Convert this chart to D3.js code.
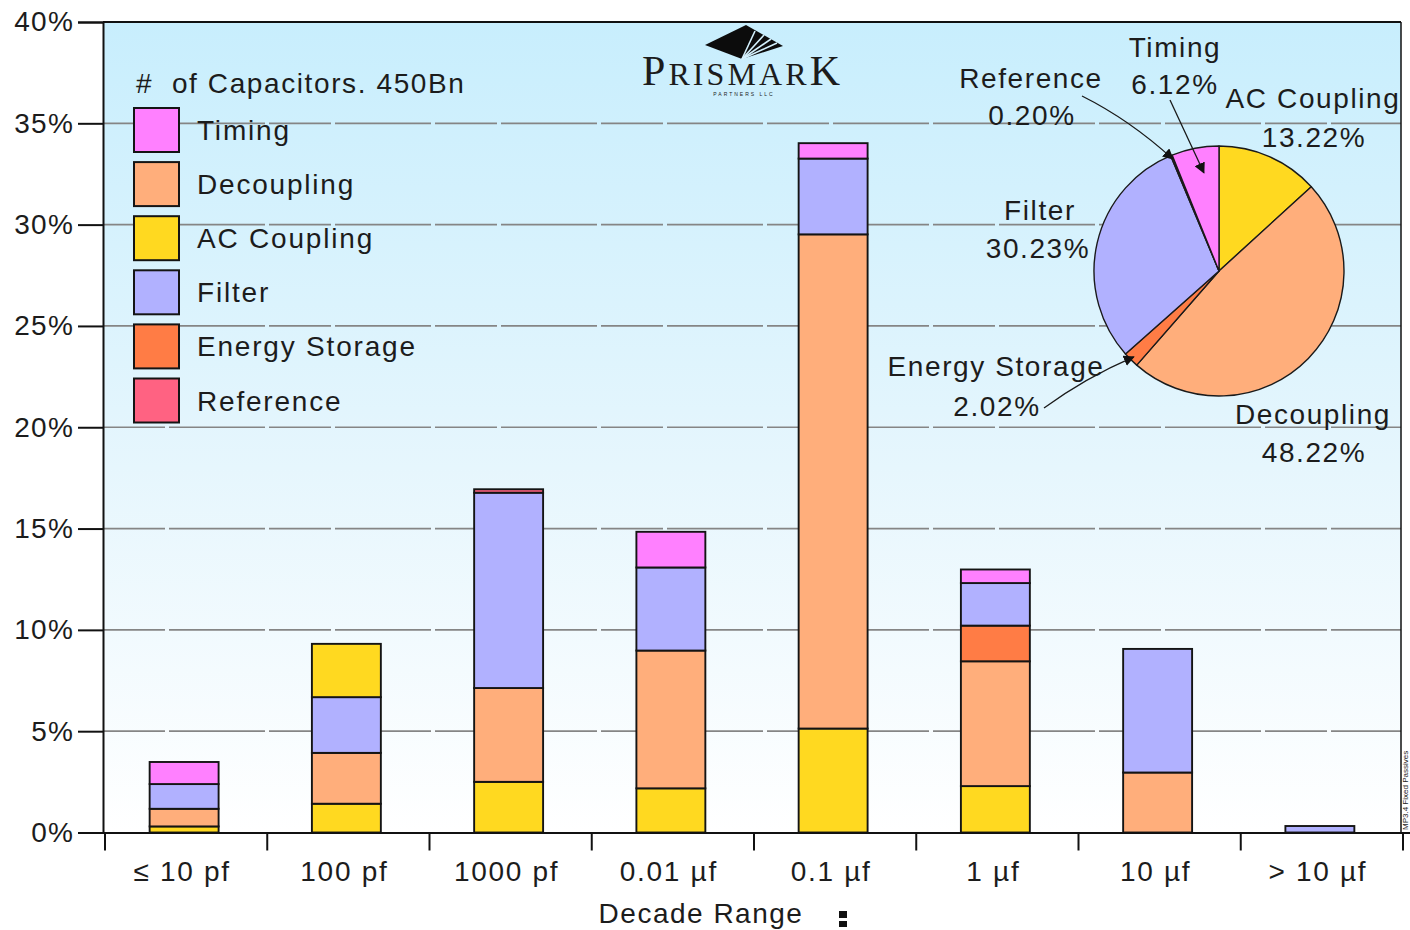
<!DOCTYPE html>
<html>
<head>
<meta charset="utf-8">
<script src="https://cdn.jsdelivr.net/npm/d3@7"></script>
<style>
  html, body { margin: 0; padding: 0; background: #ffffff; }
  svg { display: block; }
  text { font-family: "Liberation Sans", Arial, sans-serif; fill: #1c1c1c; }
</style>
</head>
<body>
<svg id="chart" width="1410" height="930"></svg>
<script>
// Capacitor usage share by decade range (percent of all units)
const categories = ["≤ 10 pf", "100 pf", "1000 pf", "0.01 µf", "0.1 µf", "1 µf", "10 µf", "> 10 µf"];
const acCoupling      = [0.30, 1.42, 2.50, 2.18, 5.13, 2.29, 0.00, 0.00];
const decoupling      = [0.87, 2.51, 4.63, 6.80, 24.39, 6.16, 2.96, 0.00];
const energyStorage   = [0.00, 0.00, 0.00, 0.00, 0.00, 1.76, 0.00, 0.00];
const filter          = [1.22, 2.75, 9.64, 4.10, 3.74, 2.10, 6.10, 0.32];
const acCouplingUpper = [0.00, 2.63, 0.00, 0.00, 0.00, 0.00, 0.00, 0.00];
const timing          = [1.09, 0.00, 0.00, 1.76, 0.76, 0.67, 0.00, 0.00];
const reference       = [0.00, 0.00, 0.17, 0.00, 0.00, 0.00, 0.00, 0.00];

const yTicks = [0, 5, 10, 15, 20, 25, 30, 35, 40];

// Overall application mix (pie), listed clockwise from 12 o'clock
const pieLabels = ["AC Coupling", "Decoupling", "Energy Storage", "Filter", "Reference", "Timing"];
const pieShares = [13.22, 48.22, 2.02, 30.23, 0.20, 6.12];

const legendLabels = ["Timing", "Decoupling", "AC Coupling", "Filter", "Energy Storage", "Reference"];
const legendTitle = "#  of Capacitors. 450Bn";

const colors = {
  "Timing": "#ff80ff",
  "Decoupling": "#ffae7b",
  "AC Coupling": "#ffd920",
  "AC Coupling (upper)": "#ffd920",
  "Filter": "#b1b1ff",
  "Energy Storage": "#ff7c45",
  "Reference": "#ff6282"
};

// ---- layout ----
const svg = d3.select("#chart");
const plot = { left: 103, right: 1401, top: 22, bottom: 832.5 };

const x = d3.scaleBand()
  .domain(categories)
  .range([plot.left, plot.right])
  .paddingInner(0.575)
  .paddingOuter(0.2875);

const y = d3.scaleLinear().domain([0, 40]).range([plot.bottom, plot.top]);

// background gradient
const defs = svg.append("defs");
const grad = defs.append("linearGradient").attr("id", "bg").attr("x1", 0).attr("y1", 0).attr("x2", 0).attr("y2", 1);
grad.append("stop").attr("offset", "0%").attr("stop-color", "#c8eefd");
grad.append("stop").attr("offset", "55%").attr("stop-color", "#e6f6fd");
grad.append("stop").attr("offset", "100%").attr("stop-color", "#ffffff");

defs.append("marker")
  .attr("id", "arrow")
  .attr("viewBox", "0 0 10 10")
  .attr("refX", 9).attr("refY", 5)
  .attr("markerWidth", 11).attr("markerHeight", 11)
  .attr("markerUnits", "userSpaceOnUse")
  .attr("orient", "auto")
  .append("path").attr("d", "M0,0 L10,5 L0,10 Z").attr("fill", "#111");

svg.append("rect")
  .attr("x", plot.left).attr("y", plot.top)
  .attr("width", plot.right - plot.left).attr("height", plot.bottom - plot.top)
  .attr("fill", "url(#bg)");

// dashed gridlines
svg.append("g").selectAll("line")
  .data(yTicks.filter(d => d > 0 && d < 40))
  .join("line")
  .attr("x1", plot.left).attr("x2", plot.right)
  .attr("y1", d => y(d)).attr("y2", d => y(d))
  .attr("stroke", "#858585").attr("stroke-width", 1.7)
  .attr("stroke-dasharray", "62,4,96,4");

// frame: top and right border
svg.append("line").attr("x1", plot.left).attr("x2", plot.right)
  .attr("y1", plot.top).attr("y2", plot.top).attr("stroke", "#111").attr("stroke-width", 2);
svg.append("line").attr("x1", plot.right).attr("x2", plot.right)
  .attr("y1", plot.top).attr("y2", plot.bottom).attr("stroke", "#111").attr("stroke-width", 1.5);

// ---- stacked bars ----
const stackKeys = ["AC Coupling", "Decoupling", "Energy Storage", "Filter", "AC Coupling (upper)", "Timing", "Reference"];
const seriesByKey = {
  "AC Coupling": acCoupling,
  "Decoupling": decoupling,
  "Energy Storage": energyStorage,
  "Filter": filter,
  "AC Coupling (upper)": acCouplingUpper,
  "Timing": timing,
  "Reference": reference
};
const rows = categories.map((c, i) => {
  const r = { category: c };
  stackKeys.forEach(k => { r[k] = seriesByKey[k][i]; });
  return r;
});
const stacked = d3.stack().keys(stackKeys)(rows);

const barG = svg.append("g");
stacked.forEach(layer => {
  barG.append("g")
    .attr("fill", colors[layer.key])
    .selectAll("rect")
    .data(layer.filter(d => d[1] - d[0] > 0))
    .join("rect")
    .attr("x", d => x(d.data.category))
    .attr("width", x.bandwidth())
    .attr("y", d => y(d[1]))
    .attr("height", d => y(d[0]) - y(d[1]))
    .attr("stroke", "#141414")
    .attr("stroke-width", 1.9);
});

// ---- y axis ----
const yAxis = d3.axisLeft(y).tickValues(yTicks).tickFormat(d => d + "%").tickSize(25).tickPadding(4);
const yG = svg.append("g").attr("transform", `translate(${plot.left},0)`).call(yAxis);
yG.select(".domain").attr("stroke", "#111").attr("stroke-width", 2);
yG.selectAll(".tick line").attr("stroke", "#111").attr("stroke-width", 2);
yG.selectAll(".tick text")
  .attr("font-size", 28).attr("letter-spacing", 1.2)
  .style("font-family", "'Liberation Sans', Arial, sans-serif").attr("fill", "#1c1c1c");

// ---- x axis ----
const boundaries = categories.map(c => x(c) - x.step() * x.paddingInner() / 2)
  .concat([plot.right]);
svg.append("line").attr("x1", plot.left).attr("x2", 1410)
  .attr("y1", plot.bottom + 0.5).attr("y2", plot.bottom + 0.5)
  .attr("stroke", "#111").attr("stroke-width", 2.2);
svg.append("g").selectAll("line")
  .data(boundaries)
  .join("line")
  .attr("x1", d => d + 2).attr("x2", d => d + 2)
  .attr("y1", plot.bottom).attr("y2", plot.bottom + 18)
  .attr("stroke", "#111").attr("stroke-width", 2);

const xAxis = d3.axisBottom(x).tickSize(0).tickPadding(0);
const xG = svg.append("g").attr("transform", `translate(-2,${plot.bottom})`).call(xAxis);
xG.select(".domain").remove();
xG.selectAll(".tick text")
  .attr("y", 48).attr("dy", 0)
  .attr("font-size", 28).attr("letter-spacing", 1.7)
  .style("font-family", "'Liberation Sans', Arial, sans-serif").attr("fill", "#1c1c1c");

svg.append("text")
  .attr("x", 701).attr("y", 923)
  .attr("text-anchor", "middle")
  .attr("font-size", 28).attr("letter-spacing", 1.5)
  .text("Decade Range");

// small stray mark beside the axis title
svg.append("rect").attr("x", 839).attr("y", 911).attr("width", 8).attr("height", 7).attr("fill", "#111");
svg.append("rect").attr("x", 839).attr("y", 921).attr("width", 8).attr("height", 6).attr("fill", "#111");

// ---- legend ----
svg.append("text")
  .attr("x", 136).attr("y", 93)
  .attr("font-size", 28).attr("letter-spacing", 1.6)
  .attr("xml:space", "preserve")
  .style("white-space", "pre")
  .text(legendTitle);

const legendRowY = d3.scalePoint().domain(legendLabels).range([130, 400.5]);
const leg = svg.append("g").selectAll("g")
  .data(legendLabels)
  .join("g")
  .attr("transform", d => `translate(134,${legendRowY(d)})`);
leg.append("rect")
  .attr("x", 0).attr("y", -22).attr("width", 45).attr("height", 44)
  .attr("fill", d => colors[d])
  .attr("stroke", "#141414").attr("stroke-width", 2);
leg.append("text")
  .attr("x", 63).attr("y", 10)
  .attr("font-size", 28).attr("letter-spacing", 1.8)
  .text(d => d);

// ---- logo ----
const logo = svg.append("g");
logo.append("path")
  .attr("d", "M705,45 L746,25 L783,46 L742,59 Z")
  .attr("fill", "#0c0c0c");
[[742, 59, 755, 31], [742, 59, 764, 35], [742, 59, 771, 39], [742, 59, 777, 43]].forEach(s => {
  logo.append("line")
    .attr("x1", s[0]).attr("y1", s[1]).attr("x2", s[2]).attr("y2", s[3])
    .attr("stroke", "#d4f1fd").attr("stroke-width", 1.6);
});
const logoText = logo.append("text")
  .attr("x", 642).attr("y", 85)
  .attr("textLength", 198).attr("lengthAdjust", "spacing")
  .style("font-family", "'Liberation Serif', 'Times New Roman', serif")
  .attr("fill", "#0c0c0c");
logoText.append("tspan").attr("font-size", 42).text("P");
logoText.append("tspan").attr("font-size", 32).text("RISMAR");
logoText.append("tspan").attr("font-size", 42).text("K");
logo.append("text")
  .attr("x", 744).attr("y", 96)
  .attr("text-anchor", "middle")
  .attr("font-size", 5).attr("letter-spacing", 2)
  .attr("fill", "#333")
  .text("PARTNERS LLC");

// ---- pie ----
const pieCenter = [1219, 271];
const pieRadius = 125;
const pieData = pieLabels.map((l, i) => ({ label: l, value: pieShares[i] }));
const arcs = d3.pie().sort(null).value(d => d.value)(pieData);
const arc = d3.arc().innerRadius(0).outerRadius(pieRadius);

svg.append("g")
  .attr("transform", `translate(${pieCenter[0]},${pieCenter[1]})`)
  .selectAll("path")
  .data(arcs)
  .join("path")
  .attr("d", arc)
  .attr("fill", d => colors[d.data.label])
  .attr("stroke", "#1a1a1a")
  .attr("stroke-width", 1.4)
  .attr("stroke-linejoin", "round");

// pie labels
const pieText = [
  { label: "Timing", x: 1175, y: 57 },
  { label: "6.12%", x: 1175, y: 94 },
  { label: "Reference", x: 1031, y: 88 },
  { label: "0.20%", x: 1032, y: 125 },
  { label: "AC Coupling", x: 1313, y: 108 },
  { label: "13.22%", x: 1314, y: 147 },
  { label: "Filter", x: 1040, y: 220 },
  { label: "30.23%", x: 1038, y: 258 },
  { label: "Energy Storage", x: 996, y: 376 },
  { label: "2.02%", x: 997, y: 416 },
  { label: "Decoupling", x: 1313, y: 424 },
  { label: "48.22%", x: 1314, y: 462 }
];
svg.append("g").selectAll("text")
  .data(pieText)
  .join("text")
  .attr("x", d => d.x).attr("y", d => d.y)
  .attr("text-anchor", "middle")
  .attr("font-size", 28).attr("letter-spacing", 1.6)
  .text(d => d.label);

// leader lines pointing at the slices
function leader(fromLabel, path) {
  svg.append("path")
    .attr("d", path)
    .attr("fill", "none")
    .attr("stroke", "#1a1a1a")
    .attr("stroke-width", 1.3)
    .attr("marker-end", "url(#arrow)")
    .attr("data-label", fromLabel);
}
const refArc = arcs.find(a => a.data.label === "Reference");
const refMid = (refArc.startAngle + refArc.endAngle) / 2;
const refPt = [pieCenter[0] + Math.sin(refMid) * (pieRadius - 4), pieCenter[1] - Math.cos(refMid) * (pieRadius - 4)];
leader("Reference", `M1082,96 Q1130,120 ${refPt[0]},${refPt[1]}`);

const timArc = arcs.find(a => a.data.label === "Timing");
const timMid = (timArc.startAngle + timArc.endAngle) / 2;
const timPt = [pieCenter[0] + Math.sin(timMid) * (pieRadius - 25) + 4, pieCenter[1] - Math.cos(timMid) * (pieRadius - 25)];
leader("Timing", `M1170,100 L${timPt[0]},${timPt[1]}`);

const enArc = arcs.find(a => a.data.label === "Energy Storage");
const enMid = (enArc.startAngle + enArc.endAngle) / 2;
const enPt = [pieCenter[0] + Math.sin(enMid) * (pieRadius - 4), pieCenter[1] - Math.cos(enMid) * (pieRadius - 4)];
leader("Energy Storage", `M1044,408 Q1085,378 ${enPt[0]},${enPt[1]}`);

// tiny document code on the right margin
svg.append("text")
  .attr("transform", "translate(1408,830) rotate(-90)")
  .attr("font-size", 8)
  .attr("fill", "#333")
  .text("MP3.4 Fixed Passives");
</script>
</body>
</html>
